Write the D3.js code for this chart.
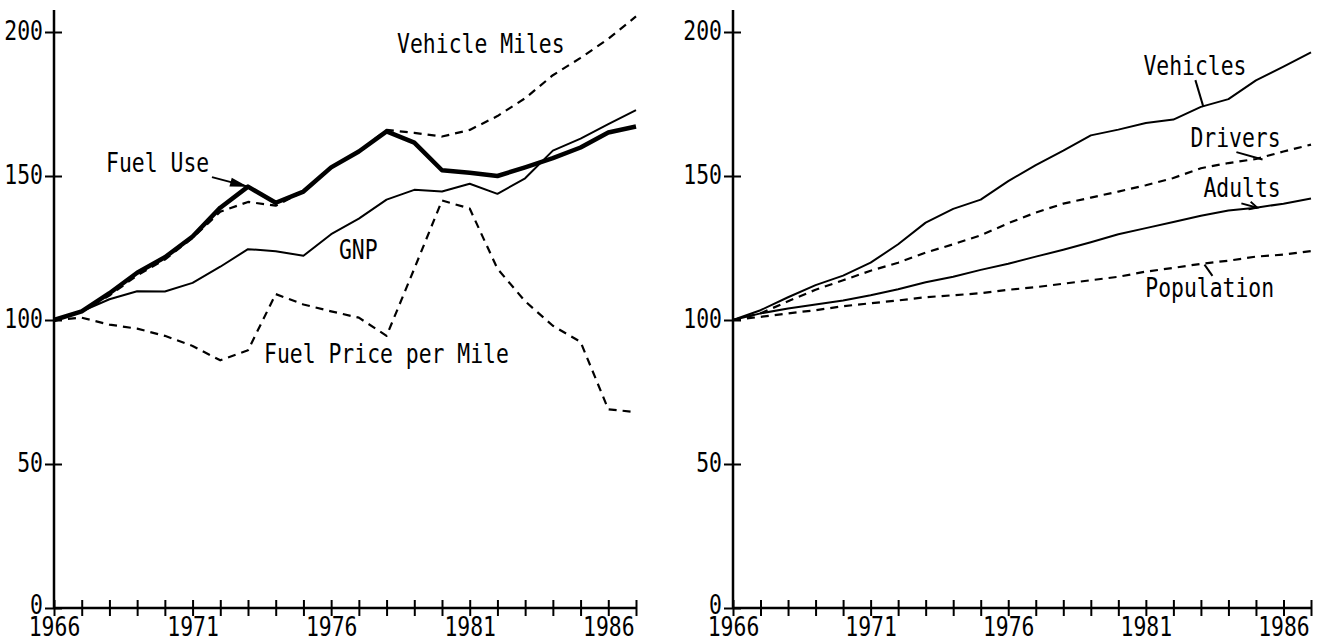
<!DOCTYPE html>
<html>
<head>
<meta charset="utf-8">
<script src="https://cdn.jsdelivr.net/npm/d3@7"></script>
<style>
  body { margin: 0; background: #fff; }
  svg text { font-family: "DejaVu Sans Mono", monospace; font-size: 21.4px; fill: #000; }
</style>
</head>
<body>
<div id="chart"></div>
<script>
// index values, 1966 = 100
const years = [1966, 1967, 1968, 1969, 1970, 1971, 1972, 1973, 1974, 1975, 1976,
  1977, 1978, 1979, 1980, 1981, 1982, 1983, 1984, 1985, 1986, 1987];
const yearLabels = [1966, 1971, 1976, 1981, 1986];
const valueTicks = [0, 50, 100, 150, 200];

// left panel
const fuelUse = [100, 103, 109.3, 116.4, 121.8, 129, 139, 146.3, 140.7, 144.6, 153,
  158.5, 165.5, 161.6, 152, 151.1, 150, 153, 156.2, 159.9, 165.1, 167.2];
const vehicleMiles = [100, 103, 108.5, 115.5, 121, 128.5, 137.6, 141, 139.7, 144.6, 153,
  158.5, 166, 165, 163.7, 166, 170.8, 177, 185, 191, 197.6, 205.4];
const gnp = [100, 103, 107.2, 110, 109.9, 112.9, 118.5, 124.6, 123.9, 122.3, 129.8,
  135.2, 141.8, 145.2, 144.6, 147.3, 143.8, 149.2, 158.8, 163, 168, 172.9];
const fuelPrice = [100, 100.8, 98.4, 97, 94.5, 91, 86, 89.5, 109, 105.4, 103,
  100.8, 94.5, 117.8, 141.5, 138.7, 117.8, 106.5, 98, 92.4, 69, 68];

// right panel
const vehicles = [100, 103.4, 107.9, 112.1, 115.4, 119.9, 126.3, 133.8, 138.6, 141.8, 148.2,
  153.8, 158.8, 164.1, 166.1, 168.4, 169.6, 174, 176.7, 183.2, 188, 192.9];
const drivers = [100, 102.3, 106.5, 110.5, 113.8, 117.1, 119.9, 123.4, 126.3, 129.4, 133.6,
  137.3, 140.4, 142.5, 144.6, 146.8, 149.3, 152.7, 154.5, 155.9, 158.5, 160.9];
const adults = [100, 102.3, 104, 105.4, 106.8, 108.6, 110.7, 113.1, 115, 117.4, 119.5,
  122, 124.4, 127, 129.8, 131.9, 134, 136.2, 138, 139, 140.4, 142.2];
const population = [100, 101.1, 102.3, 103.4, 104.8, 105.8, 106.8, 107.9, 108.6, 109.3, 110.5,
  111.4, 112.6, 113.8, 115, 116.8, 118.1, 119.5, 120.6, 122, 122.7, 123.9];

window.onload = function () {
  const svg = d3.select("#chart").append("svg")
    .attr("width", 1319).attr("height", 641);

  const stretch = "scale(1,1.25)";

  function drawPanel(left, right, series, notes, leaders) {
    const x = d3.scaleLinear().domain([1966, 1987]).range([left, right]);
    const y = d3.scaleLinear().domain([0, 200]).range([608, 32]);
    const g = svg.append("g");

    const gx = g.append("g")
      .attr("transform", `translate(0,${y(0)})`)
      .call(d3.axisBottom(x).tickValues(years).tickSizeOuter(0)
        .tickFormat((d) => (yearLabels.includes(d) ? d : "")));
    gx.select(".domain").remove();
    gx.selectAll(".tick line").attr("y1", -8).attr("y2", 8)
      .attr("stroke", "#000").attr("stroke-width", 2);
    gx.selectAll(".tick text").attr("y", null).attr("dy", null)
      .attr("text-anchor", "middle")
      .attr("transform", `translate(0,28) ${stretch}`);

    const gy = g.append("g")
      .attr("transform", `translate(${x(1966)},0)`)
      .call(d3.axisLeft(y).tickValues(valueTicks).tickSizeOuter(0));
    gy.select(".domain").remove();
    gy.selectAll(".tick line").attr("x1", -9).attr("x2", 8)
      .attr("stroke", "#000").attr("stroke-width", 2);
    gy.selectAll(".tick text").attr("x", null).attr("dy", null)
      .attr("text-anchor", "end")
      .attr("transform", (d) => `translate(-11,${d === 0 ? 5 : 7.5}) ${stretch}`);

    // axis lines
    g.append("line")
      .attr("x1", x(1966)).attr("x2", x(1987))
      .attr("y1", y(0)).attr("y2", y(0))
      .attr("stroke", "#000").attr("stroke-width", 2.5);
    g.append("line")
      .attr("x1", x(1966)).attr("x2", x(1966))
      .attr("y1", y(0)).attr("y2", y(200) - 22)
      .attr("stroke", "#000").attr("stroke-width", 2.5);

    const line = d3.line().x((d, i) => x(years[i])).y((d) => y(d));

    series.forEach((s) => {
      g.append("path")
        .datum(s.values)
        .attr("d", line)
        .attr("fill", "none")
        .attr("stroke", "#000")
        .attr("stroke-width", s.width)
        .attr("stroke-linejoin", "round")
        .attr("stroke-dasharray", s.dash ? "8,6" : null);
    });

    notes.forEach((n) => {
      g.append("text")
        .attr("transform", `translate(${x(n.year)},${y(n.value)}) ${stretch}`)
        .text(n.text);
    });

    leaders.forEach((l) => {
      const x1 = x(l.from[0]), y1 = y(l.from[1]);
      const x2 = x(l.to[0]), y2 = y(l.to[1]);
      g.append("line")
        .attr("x1", x1).attr("y1", y1).attr("x2", x2).attr("y2", y2)
        .attr("stroke", "#000").attr("stroke-width", 2);
      if (l.head) {
        const a = Math.atan2(y2 - y1, x2 - x1);
        const len = l.head === "filled" ? 18 : 8;
        const w = l.head === "filled" ? 4.5 : 4;
        const bx = x2 - len * Math.cos(a), by = y2 - len * Math.sin(a);
        const px = -Math.sin(a) * w, py = Math.cos(a) * w;
        if (l.head === "filled") {
          g.append("path")
            .attr("d", `M${x2},${y2}L${bx + px},${by + py}L${bx - px},${by - py}Z`)
            .attr("fill", "#000");
        } else {
          g.append("path")
            .attr("d", `M${bx + px},${by + py}L${x2},${y2}L${bx - px},${by - py}`)
            .attr("fill", "none").attr("stroke", "#000").attr("stroke-width", 1.8);
        }
      }
    });
  }

  drawPanel(54, 636,
    [
      { values: vehicleMiles, width: 2.2, dash: true },
      { values: gnp, width: 2, dash: false },
      { values: fuelPrice, width: 2.2, dash: true },
      { values: fuelUse, width: 4.5, dash: false },
    ],
    [
      { text: "Vehicle Miles", year: 1978.38, value: 192.7 },
      { text: "Fuel Use", year: 1967.88, value: 151.4 },
      { text: "GNP", year: 1976.28, value: 121.2 },
      { text: "Fuel Price per Mile", year: 1973.58, value: 85.1 },
    ],
    [
      { from: [1971.7, 149.6], to: [1973, 146.3], head: "filled" },
    ]);

  drawPanel(733, 1311,
    [
      { values: vehicles, width: 2, dash: false },
      { values: drivers, width: 2.2, dash: true },
      { values: adults, width: 2, dash: false },
      { values: population, width: 2.2, dash: true },
    ],
    [
      { text: "Vehicles", year: 1980.91, value: 185.1 },
      { text: "Drivers", year: 1982.62, value: 160.1 },
      { text: "Adults", year: 1983.09, value: 142.7 },
      { text: "Population", year: 1980.98, value: 108 },
    ],
    [
      { from: [1982.8, 183.3], to: [1983.09, 174] },
      { from: [1984.29, 158.3], to: [1985.24, 155.7] },
      { from: [1984.47, 140.5], to: [1985.05, 139], head: "open" },
      { from: [1983.42, 115.3], to: [1983.13, 119.2] },
    ]);
};
</script>
</body>
</html>
